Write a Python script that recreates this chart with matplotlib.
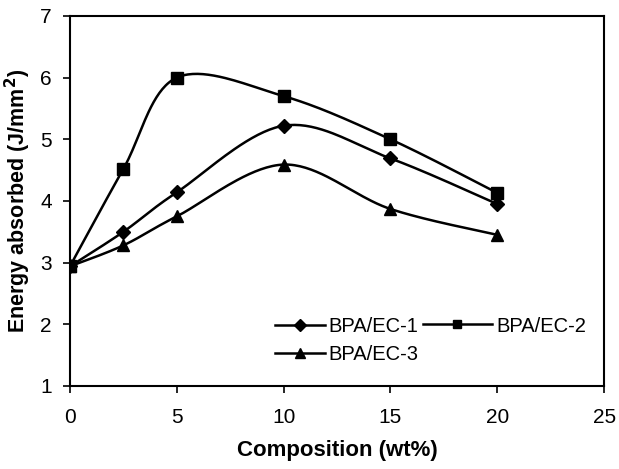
import numpy as np
import matplotlib
matplotlib.use("Agg")
import matplotlib.pyplot as plt
from matplotlib.lines import Line2D

plt.rcParams['font.family'] = ['Liberation Sans', 'DejaVu Sans']

composition = [0, 2.5, 5, 10, 15, 20]
bpa_ec_1 = [2.94, 3.50, 4.14, 5.22, 4.69, 3.95]
bpa_ec_2 = [2.94, 4.52, 6.00, 5.70, 5.00, 4.13]
bpa_ec_3 = [2.94, 3.28, 3.75, 4.59, 3.87, 3.45]
series_names = ["BPA/EC-1", "BPA/EC-2", "BPA/EC-3"]
x_ticks = [0, 5, 10, 15, 20, 25]
y_ticks = [1, 2, 3, 4, 5, 6, 7]


def smooth_curve(xs, ys, n=40):
    """Cubic Bezier smoothing through every point (Catmull-Rom style)."""
    p = np.column_stack([xs, ys]).astype(float)
    pts = np.vstack([p[0], p, p[-1]])
    out = []
    t = np.linspace(0, 1, n)[:, None]
    for i in range(1, len(pts) - 2):
        p0, p1, p2, p3 = pts[i - 1], pts[i], pts[i + 1], pts[i + 2]
        c1 = p1 + (p2 - p0) / 6.0
        c2 = p2 - (p3 - p1) / 6.0
        seg = ((1 - t) ** 3) * p1 + 3 * ((1 - t) ** 2) * t * c1 \
            + 3 * (1 - t) * t ** 2 * c2 + t ** 3 * p2
        out.append(seg if i == 1 else seg[1:])
    seg = np.vstack(out)
    return seg[:, 0], seg[:, 1]


fig = plt.figure(figsize=(6.19, 4.69), dpi=100)
ax = fig.add_axes([0.113, 0.177, 0.863, 0.789])

markers = ["D", "s", "^"]
msizes = [7.5, 8.5, 9]
handles = {}
for ys, name, mk, ms in zip([bpa_ec_1, bpa_ec_2, bpa_ec_3], series_names, markers, msizes):
    sx, sy = smooth_curve(composition, ys)
    ax.plot(sx, sy, color="black", lw=1.8, zorder=2)
    ax.plot(composition, ys, linestyle="none", marker=mk, ms=ms,
            color="black", zorder=3)
    handles[name] = Line2D([], [], color="black", lw=1.8, marker=mk, ms=ms,
                           label=name)

ax.set_xlim(0, 25)
ax.set_ylim(1, 7)
ax.set_xticks(x_ticks)
ax.set_yticks(y_ticks)
ax.tick_params(axis="both", direction="out", length=5, width=1.2,
               labelsize=15, pad=8)
ax.tick_params(axis="x", pad=11)
for sp in ax.spines.values():
    sp.set_linewidth(1.5)

ax.set_xlabel("Composition (wt%)", fontsize=16, fontweight="bold")
ax.set_ylabel("Energy absorbed (J/mm$^\\mathbf{2}$)", fontsize=15.5,
              fontweight="bold")
ax.xaxis.set_label_coords(0.5, -0.145)
ax.yaxis.set_label_coords(-0.069, 0.5)

# two-column legend: EC-1 and EC-3 on the left, EC-2 on the right
common = dict(frameon=False, fontsize=14.5, markerscale=0.75,
              loc="center left", borderaxespad=0.0, borderpad=0.0)
leg_left = ax.legend(handles=[handles["BPA/EC-1"], handles["BPA/EC-3"]],
                     bbox_to_anchor=(0.384, 0.124), handlelength=2.5,
                     handletextpad=0.15, labelspacing=0.45, **common)
ax.add_artist(leg_left)
ax.legend(handles=[handles["BPA/EC-2"]], bbox_to_anchor=(0.661, 0.162),
          handlelength=3.4, handletextpad=0.25, **common)

fig.savefig("out.png", dpi=100)
